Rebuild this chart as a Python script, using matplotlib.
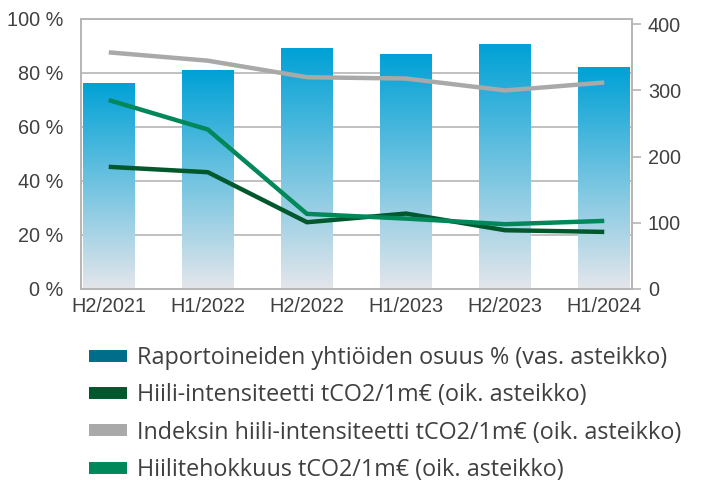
import matplotlib
matplotlib.use('Agg')
import matplotlib.pyplot as plt
import numpy as np
from matplotlib.colors import LinearSegmentedColormap
from matplotlib.lines import Line2D

plt.rcParams['font.family'] = ['Liberation Sans', 'DejaVu Sans']

# data
periods = ['H2/2021', 'H1/2022', 'H2/2022', 'H1/2023', 'H2/2023', 'H1/2024']
osuus = [76.3, 81.1, 89.1, 87.0, 90.7, 82.2]            # % (vas. asteikko)
hiili_int = [184.6, 176.5, 100.9, 114.0, 88.8, 86.3]    # oik. asteikko
indeksi_int = [357.6, 345.0, 320.0, 318.0, 300.0, 312.0]
tehokkuus = [285.5, 241.0, 113.5, 106.4, 97.9, 102.9]
left_ticks = [0, 20, 40, 60, 80, 100]
left_labels = ['0 %', '20 %', '40 %', '60 %', '80 %', '100 %']
right_ticks = [0, 100, 200, 300, 400]

labels = ['Raportoineiden yhtiöiden osuus % (vas. asteikko)',
          'Hiili-intensiteetti tCO2/1m€ (oik. asteikko)',
          'Indeksin hiili-intensiteetti tCO2/1m€ (oik. asteikko)',
          'Hiilitehokkuus tCO2/1m€ (oik. asteikko)']

c_bar = '#006E8A'
c_dark = '#00582C'
c_gray = '#A9A9A9'
c_green = '#00875A'
c_axis = '#B5B5B5'
c_text = '#404040'

fig = plt.figure(figsize=(7.05, 4.82), dpi=100)
ax = fig.add_axes([81 / 705, 1 - 289 / 482, 551 / 705, 270 / 482])
ax2 = ax.twinx()

x = np.arange(len(periods))
bars = ax.bar(x, osuus, width=0.52, color='none', zorder=2)
grad = LinearSegmentedColormap.from_list('grad', ['#E4E6EB', '#00A1D6'])
g = np.linspace(0, 1, 256).reshape(-1, 1)
for b in bars:
    x0, w, h = b.get_x(), b.get_width(), b.get_height()
    im = ax.imshow(g, extent=[x0, x0 + w, 0, h], origin='lower', aspect='auto',
                   cmap=grad, zorder=2)
    im.set_clip_path(b)

ax.set_xlim(-0.28, len(periods) - 1 + 0.28)
ax.set_ylim(0, 100)
ax.set_yticks(left_ticks)
ax.set_yticklabels(left_labels)
ax.set_xticks(x)
ax.set_xticklabels(periods)
ax.set_axisbelow(True)
ax.grid(axis='y', color=c_axis, linewidth=1.2, zorder=0)
ax.tick_params(axis='y', length=0, pad=13, labelsize=14.3, labelcolor=c_text)
ax.tick_params(axis='x', length=0, pad=6, labelsize=14.3, labelcolor=c_text)

ax2.plot(x, hiili_int, color=c_dark, lw=3.2, solid_capstyle='butt', zorder=3)
ax2.plot(x, indeksi_int, color=c_gray, lw=3.2, solid_capstyle='butt', zorder=3)
ax2.plot(x, tehokkuus, color=c_green, lw=3.2, solid_capstyle='butt', zorder=3)
ax2.set_ylim(0, 408)
ax2.set_yticks(right_ticks)
ax2.tick_params(axis='y', length=6.5, width=1.2, color=c_axis, pad=5,
                labelsize=14.3, labelcolor=c_text)

for a in (ax, ax2):
    for s in a.spines.values():
        s.set_color(c_axis)
        s.set_linewidth(1.2)

handles = [Line2D([], [], color=c, lw=8.6, solid_capstyle='butt')
           for c in (c_bar, c_dark, c_gray, c_green)]
fig.legend(handles, labels, loc='upper left', bbox_to_anchor=(89 / 705, 1 - 346 / 482),
           frameon=False, borderpad=0, borderaxespad=0, handlelength=1.65,
           handletextpad=0.42, labelspacing=0.57,
           prop={'family': ['Open Sans', 'DejaVu Sans'], 'size': 16.8}, labelcolor=c_text)

fig.savefig('out.png', dpi=100)
